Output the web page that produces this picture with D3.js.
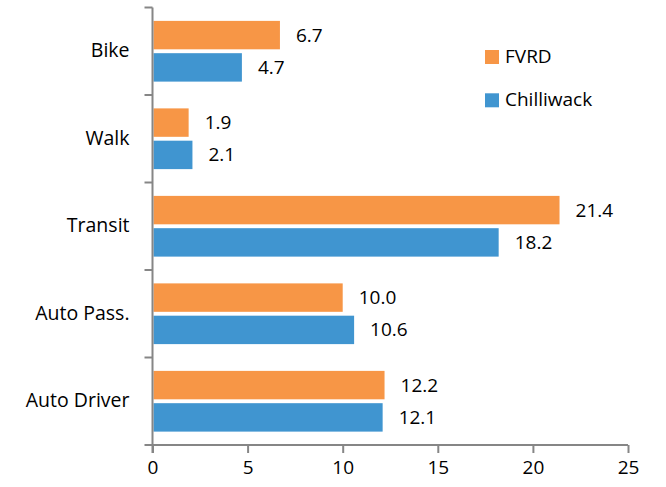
<!DOCTYPE html>
<html>
<head>
<meta charset="utf-8">
<script src="https://cdn.jsdelivr.net/npm/d3@7"></script>
<style>
  html, body { margin: 0; padding: 0; background: #fff; }
  svg { display: block; font-family: "Open Sans", sans-serif; }
</style>
</head>
<body>
<div id="chart"></div>
<script>
// Travel mode share (%), top to bottom
const categories = ['Bike', 'Walk', 'Transit', 'Auto Pass.', 'Auto Driver'];
const seriesNames = ['FVRD', 'Chilliwack'];
const fvrdValues = [6.7, 1.9, 21.4, 10.0, 12.2];
const chilliwackValues = [4.7, 2.1, 18.2, 10.6, 12.1];
const xTicks = [0, 5, 10, 15, 20, 25];

const colors = ['#F79646', '#4095D0'];
const width = 666;
const height = 487;

// Plot area edges (axis at left/bottom)
const plotLeft = 152.5;
const plotRight = 628;
const plotTop = 7.5;
const plotBottom = 445;

const rows = categories.map((c, i) => ({
  category: c,
  values: [fvrdValues[i], chilliwackValues[i]]
}));

const svg = d3.select('#chart').append('svg')
  .attr('width', width)
  .attr('height', height)
  .attr('viewBox', [0, 0, width, height]);

const x = d3.scaleLinear()
  .domain([0, 25])
  .range([plotLeft, plotRight]);

const y = d3.scaleBand()
  .domain(categories)
  .range([plotTop, plotBottom])
  .paddingInner(0.306)
  .paddingOuter(0.153);

const ySeries = d3.scaleBand()
  .domain(seriesNames)
  .range([0, y.bandwidth()])
  .paddingInner(0.12);

// Bars
const groups = svg.append('g')
  .selectAll('g')
  .data(rows)
  .join('g')
  .attr('transform', d => `translate(0, ${y(d.category)})`);

groups.selectAll('rect')
  .data(d => d.values.map((v, i) => ({ name: seriesNames[i], value: v, i })))
  .join('rect')
  .attr('x', x(0) + 1)
  .attr('y', d => ySeries(d.name))
  .attr('width', d => x(d.value) - x(0) - 1)
  .attr('height', ySeries.bandwidth())
  .attr('fill', d => colors[d.i]);

// Value labels
groups.selectAll('text')
  .data(d => d.values.map((v, i) => ({ name: seriesNames[i], value: v })))
  .join('text')
  .attr('x', d => x(d.value) + 16)
  .attr('y', d => ySeries(d.name) + ySeries.bandwidth() / 2 + 1.5)
  .attr('dominant-baseline', 'middle')
  .attr('font-size', 19)
  .attr('fill', '#000')
  .text(d => d.value.toFixed(1));

// X axis
const xAxis = svg.append('g')
  .attr('transform', `translate(0, ${plotBottom})`)
  .call(d3.axisBottom(x).tickValues(xTicks).tickSize(8).tickPadding(8));

xAxis.select('.domain')
  .attr('d', `M${plotLeft - 8},0H${plotRight}`)
  .attr('stroke', '#868686')
  .attr('stroke-width', 2);
xAxis.selectAll('.tick line')
  .attr('stroke', '#868686')
  .attr('stroke-width', 2);
xAxis.selectAll('.tick text')
  .attr('font-size', 19)
  .attr('font-family', '"Open Sans", sans-serif')
  .attr('fill', '#000');

// Y axis: line with tick marks at category boundaries
const yAxis = svg.append('g');
yAxis.append('line')
  .attr('x1', plotLeft).attr('x2', plotLeft)
  .attr('y1', plotTop).attr('y2', plotBottom + 8)
  .attr('stroke', '#868686')
  .attr('stroke-width', 2);

const boundaries = categories.map(c => y(c) - y.step() * y.paddingInner() / 2);
yAxis.selectAll('line.bound')
  .data(boundaries)
  .join('line')
  .attr('class', 'bound')
  .attr('x1', plotLeft - 8).attr('x2', plotLeft)
  .attr('y1', d => d).attr('y2', d => d)
  .attr('stroke', '#868686')
  .attr('stroke-width', 2);

yAxis.selectAll('text')
  .data(categories)
  .join('text')
  .attr('x', plotLeft - 23)
  .attr('y', d => y(d) + y.bandwidth() / 2 + 1)
  .attr('text-anchor', 'end')
  .attr('dominant-baseline', 'middle')
  .attr('font-size', 19.5)
  .attr('fill', '#000')
  .text(d => d);

// Legend
const legend = svg.append('g')
  .attr('transform', 'translate(485, 50)');

const legendItems = legend.selectAll('g')
  .data(seriesNames)
  .join('g')
  .attr('transform', (d, i) => `translate(0, ${i * 43.3})`);

legendItems.append('rect')
  .attr('width', 14)
  .attr('height', 14)
  .attr('fill', (d, i) => colors[i]);

legendItems.append('text')
  .attr('x', 20)
  .attr('y', 7.5)
  .attr('dominant-baseline', 'middle')
  .attr('font-size', 19)
  .attr('fill', '#000')
  .text(d => d);
</script>
</body>
</html>
